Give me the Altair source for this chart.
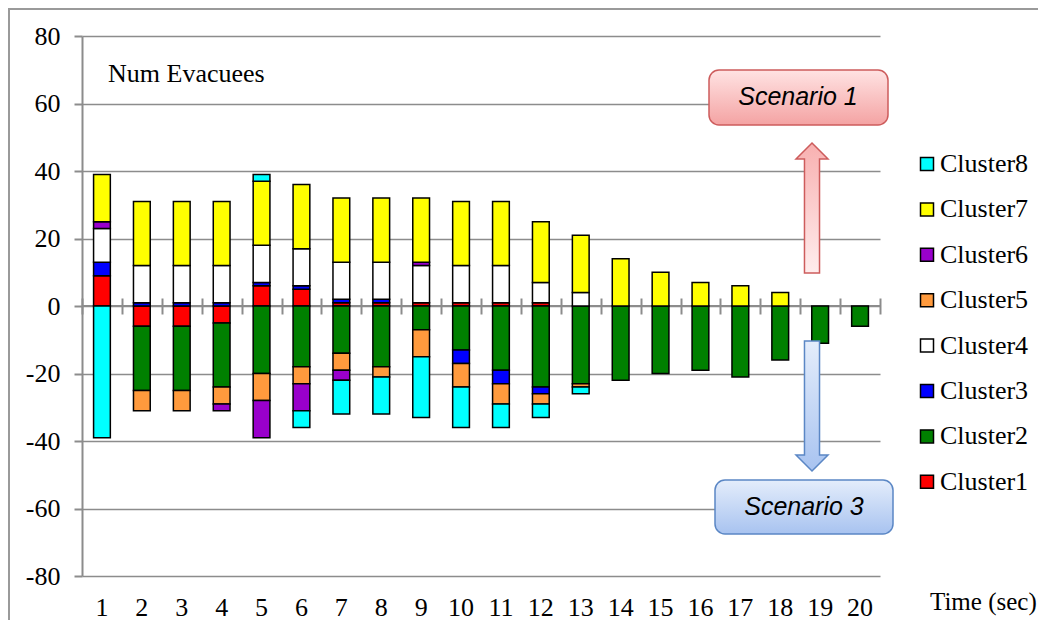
import altair as alt
import pandas as pd

# ---------------- data ----------------
times = list(range(1, 21))
clusters = ["Cluster1", "Cluster2", "Cluster3", "Cluster4",
            "Cluster5", "Cluster6", "Cluster7", "Cluster8"]
colors = ["#FF0000", "#008000", "#0000FF", "#FFFFFF",
          "#FF9A3D", "#9900CC", "#FFFF00", "#00FFFF"]

# Scenario 1 (positive side)
s1_c1 = [9, 0, 0, 0, 6, 5, 1, 1, 1, 1, 1, 1, 0, 0, 0, 0, 0, 0, 0, 0]
s1_c2 = [0] * 20
s1_c3 = [4, 1, 1, 1, 1, 1, 1, 1, 0, 0, 0, 0, 0, 0, 0, 0, 0, 0, 0, 0]
s1_c4 = [10, 11, 11, 11, 11, 11, 11, 11, 11, 11, 11, 6, 4, 0, 0, 0, 0, 0, 0, 0]
s1_c5 = [0] * 20
s1_c6 = [2, 0, 0, 0, 0, 0, 0, 0, 1, 0, 0, 0, 0, 0, 0, 0, 0, 0, 0, 0]
s1_c7 = [14, 19, 19, 19, 19, 19, 19, 19, 19, 19, 19, 18, 17, 14, 10, 7, 6, 4, 0, 0]
s1_c8 = [0, 0, 0, 0, 2, 0, 0, 0, 0, 0, 0, 0, 0, 0, 0, 0, 0, 0, 0, 0]

# Scenario 3 (negative side)
s3_c1 = [0, -6, -6, -5, 0, 0, 0, 0, 0, 0, 0, 0, 0, 0, 0, 0, 0, 0, 0, 0]
s3_c2 = [0, -19, -19, -19, -20, -18, -14, -18, -7, -13, -19, -24, -23, -22, -20, -19, -21, -16, -11, -6]
s3_c3 = [0, 0, 0, 0, 0, 0, 0, 0, 0, -4, -4, -2, 0, 0, 0, 0, 0, 0, 0, 0]
s3_c4 = [0] * 20
s3_c5 = [0, -6, -6, -5, -8, -5, -5, -3, -8, -7, -6, -3, -1, 0, 0, 0, 0, 0, 0, 0]
s3_c6 = [0, 0, 0, -2, -11, -8, -3, 0, 0, 0, 0, 0, 0, 0, 0, 0, 0, 0, 0, 0]
s3_c7 = [0] * 20
s3_c8 = [-39, 0, 0, 0, 0, -5, -10, -11, -18, -12, -7, -4, -2, 0, 0, 0, 0, 0, 0, 0]

y_ticks = [-80, -60, -40, -20, 0, 20, 40, 60, 80]

s1 = [s1_c1, s1_c2, s1_c3, s1_c4, s1_c5, s1_c6, s1_c7, s1_c8]
s3 = [s3_c1, s3_c2, s3_c3, s3_c4, s3_c5, s3_c6, s3_c7, s3_c8]

rows = []
for k, name in enumerate(clusters):
    for side in (s1[k], s3[k]):
        for t, v in zip(times, side):
            if v != 0:
                rows.append({"time": t, "cluster": name, "value": v, "idx": k + 1})
df = pd.DataFrame(rows)
one = pd.DataFrame({"a": [0]})

SERIF = "Liberation Serif"
GRAY = "#8C8C8C"
legend_order = clusters[::-1]
legend_colors = colors[::-1]

xscale = alt.Scale(paddingInner=0, paddingOuter=0)

# ---------------- layers ----------------
border = alt.Chart(one).mark_rect(fill=None, stroke="#9A9A9A", strokeWidth=2).encode(
    x=alt.value(-73), x2=alt.value(1000), y=alt.value(-27), y2=alt.value(700)
)

zero_rule = alt.Chart(one).mark_rule(color=GRAY, strokeWidth=2).encode(y=alt.datum(0))

cross_ticks = alt.Chart(pd.DataFrame({"time": times})).mark_point(opacity=0).encode(
    x=alt.X("time:O", scale=xscale,
            axis=alt.Axis(orient="top", offset=-278, domain=False, labels=False,
                          ticks=True, tickSize=16, tickBand="extent", tickColor=GRAY,
                          tickWidth=2, grid=False, title=None)),
    y=alt.value(270),
)

bars = alt.Chart(df).mark_bar(width=alt.RelativeBandSize(0.42), stroke="black",
                              strokeWidth=1.5).encode(
    x=alt.X("time:O", scale=xscale,
            axis=alt.Axis(orient="bottom", title=None, labelAngle=0, domain=False,
                          ticks=False, tickSize=0, labelPadding=18, labelFont=SERIF,
                          labelFontSize=26, labelColor="black", grid=False)),
    y=alt.Y("value:Q", stack="zero",
            scale=alt.Scale(domain=[-80, 80], nice=False),
            axis=alt.Axis(values=y_ticks, title=None, grid=True, gridColor=GRAY,
                          gridWidth=1.5, domainColor=GRAY, domainWidth=2,
                          tickColor=GRAY, tickSize=8, tickWidth=2, labelPadding=14,
                          labelExpr="'' + datum.value",
                          labelFont=SERIF, labelFontSize=26, labelColor="black")),
    color=alt.Color("cluster:N",
                    scale=alt.Scale(domain=legend_order, range=legend_colors),
                    legend=alt.Legend(title=None, orient="none", legendX=832,
                                      legendY=115, symbolType="square",
                                      symbolSize=169, symbolStrokeColor="black",
                                      symbolStrokeWidth=1.5, symbolOpacity=1,
                                      labelFont=SERIF, labelFontSize=26,
                                      labelColor="black", rowPadding=19.4,
                                      labelOffset=0, padding=0)),
    order=alt.Order("idx:Q", sort="ascending"),
)

pink_grad = {"gradient": "linear", "x1": 0, "y1": 0, "x2": 0, "y2": 1,
             "stops": [{"offset": 0, "color": "#FFE3E3"},
                       {"offset": 1, "color": "#F4A3A3"}]}
blue_grad = {"gradient": "linear", "x1": 0, "y1": 0, "x2": 0, "y2": 1,
             "stops": [{"offset": 0, "color": "#E4EDFB"},
                       {"offset": 1, "color": "#A8C3F0"}]}
pink_arrow_grad = {"gradient": "linear", "x1": 0, "y1": 0, "x2": 0, "y2": 1,
                   "stops": [{"offset": 0, "color": "#F8B0B0"},
                             {"offset": 1, "color": "#FFEDED"}]}
blue_arrow_grad = {"gradient": "linear", "x1": 0, "y1": 0, "x2": 0, "y2": 1,
                   "stops": [{"offset": 0, "color": "#E4EDFB"},
                             {"offset": 1, "color": "#A8C3F0"}]}

RED_STROKE = "#CD5C5C"
BLUE_STROKE = "#5B87C5"

box1 = alt.Chart(one).mark_rect(cornerRadius=10, fill=pink_grad, stroke=RED_STROKE,
                                strokeWidth=1.5).encode(
    x=alt.value(627), x2=alt.value(806), y=alt.value(34), y2=alt.value(89))
box3 = alt.Chart(one).mark_rect(cornerRadius=10, fill=blue_grad, stroke=BLUE_STROKE,
                                strokeWidth=1.5).encode(
    x=alt.value(633), x2=alt.value(811), y=alt.value(444), y2=alt.value(498))

up_path = "M0,-4.06L1,-3.06L0.47,-3.06L0.47,4.06L-0.47,4.06L-0.47,-3.06L-1,-3.06Z"
down_path = "M0,4.06L1,3.06L0.47,3.06L0.47,-4.06L-0.47,-4.06L-0.47,3.06L-1,3.06Z"

arrow_up = alt.Chart(one).mark_point(shape=up_path, size=1024, filled=True,
                                     fill=pink_arrow_grad, stroke=RED_STROKE,
                                     strokeWidth=1.5, opacity=1).encode(
    x=alt.value(730), y=alt.value(172))
arrow_down = alt.Chart(one).mark_point(shape=down_path, size=1024, filled=True,
                                       fill=blue_arrow_grad, stroke=BLUE_STROKE,
                                       strokeWidth=1.5, opacity=1).encode(
    x=alt.value(730), y=alt.value(370))

txt1 = alt.Chart(one).mark_text(text="Scenario 1", font="Liberation Sans",
                                fontStyle="italic", fontSize=25, color="black",
                                align="center", baseline="middle").encode(
    x=alt.value(716), y=alt.value(61))
txt3 = alt.Chart(one).mark_text(text="Scenario 3", font="Liberation Sans",
                                fontStyle="italic", fontSize=25, color="black",
                                align="center", baseline="middle").encode(
    x=alt.value(722), y=alt.value(471))

num_evac = alt.Chart(one).mark_text(text="Num Evacuees", font=SERIF, fontSize=26,
                                    color="black", align="left",
                                    baseline="alphabetic").encode(
    x=alt.value(26), y=alt.value(46))
time_lbl = alt.Chart(one).mark_text(text="Time (sec)", font=SERIF, fontSize=25,
                                    color="black", align="left",
                                    baseline="alphabetic").encode(
    x=alt.value(848), y=alt.value(574))

chart = alt.layer(
    border, zero_rule, cross_ticks, bars, box1, box3, arrow_up, arrow_down,
    txt1, txt3, num_evac, time_lbl
).resolve_axis(x="independent").properties(
    width=798, height=540,
    padding={"left": 74, "top": 28, "right": 158, "bottom": 44},
    autosize=alt.AutoSizeParams(type="none"),
).configure_view(stroke=None)

chart.save("out.html", embed_options={"renderer": "svg", "actions": False})
